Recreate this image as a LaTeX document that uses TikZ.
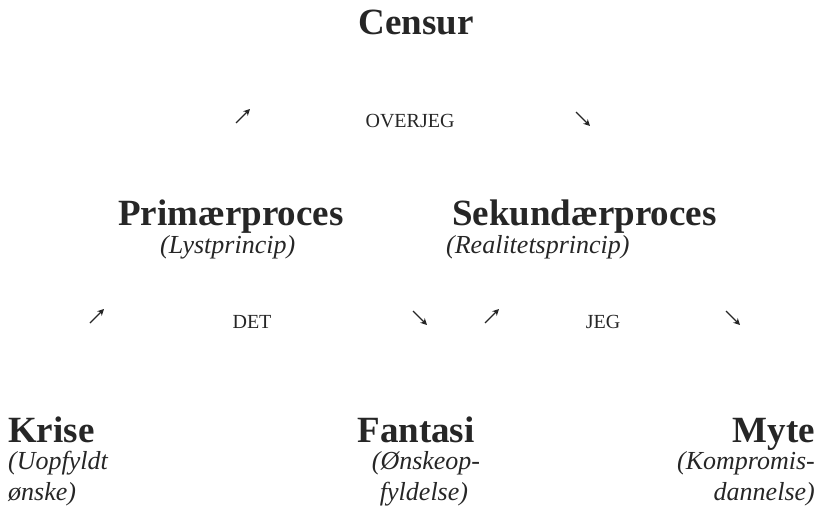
\documentclass[tikz,border=0pt]{standalone}
\usepackage{fontspec}
\setmainfont{Liberation Serif}
\usetikzlibrary{arrows.meta}
\definecolor{ink}{HTML}{262626}
\begin{document}
\begin{tikzpicture}[x=1pt,y=-1pt,
  every node/.style={inner sep=0pt,text=ink},
  head/.style={font=\fontsize{37}{42}\selectfont\bfseries},
  sub/.style={font=\fontsize{26}{30}\selectfont\itshape},
  lab/.style={font=\fontsize{20}{22}\selectfont},
  arr/.style={draw=ink,line width=1.4pt,-{Stealth[length=6.5pt,width=6.5pt]}}]
\useasboundingbox (0,0) rectangle (822,508);
% top
\node[head,anchor=base] (censur) at (416,35) {Censur};
\node[lab,anchor=base] (overjeg) at (410,128) {OVERJEG};
\coordinate (a1s) at (236,123); \coordinate (a1e) at (250,109);
\coordinate (a2s) at (576,112); \coordinate (a2e) at (590,126);
\draw[arr] (a1s) -- (a1e);
\draw[arr] (a2s) -- (a2e);
% middle
\node[head,anchor=base west] (prim) at (118,225) {Primærproces};
\node[sub,anchor=base west] (lyst) at (160,253) {(Lystprincip)};
\node[head,anchor=base west] (sek) at (452,225) {Sekundærproces};
\node[sub,anchor=base west] (real) at (446,253) {(Realitetsprincip)};
\node[lab,anchor=base] (det) at (252,328) {DET};
\node[lab,anchor=base] (jeg) at (603,328) {JEG};
\coordinate (b1s) at (90,323); \coordinate (b1e) at (104,309);
\coordinate (b2s) at (413,311); \coordinate (b2e) at (427,325);
\coordinate (b3s) at (485,323); \coordinate (b3e) at (499,309);
\coordinate (b4s) at (726,311); \coordinate (b4e) at (740,325);
\draw[arr] (b1s) -- (b1e);
\draw[arr] (b2s) -- (b2e);
\draw[arr] (b3s) -- (b3e);
\draw[arr] (b4s) -- (b4e);
% bottom
\node[head,anchor=base west] (krise) at (8,442) {Krise};
\node[sub,anchor=base west] (k1) at (8,469) {(Uopfyldt};
\node[sub,anchor=base west] (k2) at (8,500) {ønske)};
\node[head,anchor=base] (fant) at (416,442) {Fantasi};
\node[sub,anchor=base] (f1) at (426,469) {(Ønskeop-};
\node[sub,anchor=base] (f2) at (424,500) {fyldelse)};
\node[head,anchor=base east] (myte) at (815,442) {Myte};
\node[sub,anchor=base east] (m1) at (815,469) {(Kompromis-};
\node[sub,anchor=base east] (m2) at (815,500) {dannelse)};
\end{tikzpicture}
\end{document}
